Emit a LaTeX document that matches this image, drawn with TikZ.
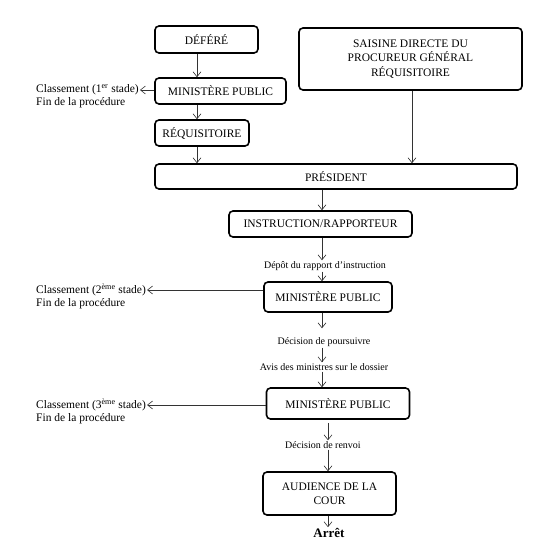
\documentclass[tikz,border=0pt]{standalone}
\usepackage{fontspec}
\setmainfont{Liberation Serif}
\usetikzlibrary{arrows.meta,positioning}

\begin{document}
\begin{tikzpicture}[x=1pt,y=1pt,>={Straight Barb[length=5pt,width=8pt]},
  box/.style={draw,line width=1.6pt,rounded corners=4pt,align=center,inner sep=2pt,font=\fontsize{11.5}{14.5}\selectfont},
  side/.style={inner sep=1pt,align=left,font=\fontsize{11.5}{14}\selectfont},
  lab/.style={inner sep=1pt,font=\fontsize{10}{12}\selectfont},
  link/.style={->,line width=0.6pt,black!80}]
\useasboundingbox (0,0) rectangle (543,-556);
% colonnes des fleches
\coordinate (colA) at (197,0);
\coordinate (colS) at (412,0);
\coordinate (colB) at (322,0);
\coordinate (colC) at (328,0);
% boites
\node[box,minimum width=103pt,minimum height=27pt] (deferre) at (206.5,-39.5) {DÉFÉRÉ};
\node[box,minimum width=131pt,minimum height=26pt] (mp1) at (220.5,-91) {MINISTÈRE PUBLIC};
\node[box,minimum width=94pt,minimum height=26pt] (requis) at (202,-133) {RÉQUISITOIRE};
\node[box,minimum width=223pt,minimum height=62pt] (saisine) at (410.5,-59) {SAISINE DIRECTE DU\\ PROCUREUR GÉNÉRAL\\ RÉQUISITOIRE};
\node[box,minimum width=362pt,minimum height=25pt] (pres) at (336,-176.5) {PRÉSIDENT};
\node[box,minimum width=183pt,minimum height=26pt] (instr) at (320.5,-224) {INSTRUCTION/RAPPORTEUR};
\node[box,minimum width=128pt,minimum height=30pt] (mp2) at (328,-297) {MINISTÈRE PUBLIC};
\node[box,minimum width=143pt,minimum height=31pt] (mp3) at (338,-403.5) {MINISTÈRE PUBLIC};
\node[box,minimum width=133pt,minimum height=43pt] (audience) at (329.5,-493.5) {AUDIENCE DE LA\\ COUR};
% etiquettes des fleches
\node[lab] (depot) at (325,-266) {Dépôt du rapport d’instruction};
\node[lab] (pours) at (324,-342) {Décision de poursuivre};
\node[lab] (avis) at (324,-367) {Avis des ministres sur le dossier};
\node[lab] (renvoi) at (323,-445) {Décision de renvoi};
\node[inner sep=1pt,font=\fontsize{13}{15}\selectfont\bfseries] (arret) at (329,-533) {Arrêt};
% classements
\node[side,anchor=west] (cl1) at (35,-90) {Classement (1\textsuperscript{er} stade)};
\node[side,below=0pt of cl1.south west,anchor=north west] (fin1) {Fin de la procédure};
\node[side,anchor=west] (cl2) at (35,-290) {Classement (2\textsuperscript{ème} stade)};
\node[side,below=0pt of cl2.south west,anchor=north west] (fin2) {Fin de la procédure};
\node[side,anchor=west] (cl3) at (35,-405) {Classement (3\textsuperscript{ème} stade)};
\node[side,below=0pt of cl3.south west,anchor=north west] (fin3) {Fin de la procédure};
% fleches
\draw[link] (deferre.south -| colA) -- (mp1.north -| colA);
\draw[link] (mp1.south -| colA) -- (requis.north -| colA);
\draw[link] (requis.south -| colA) -- (pres.north -| colA);
\draw[link] (saisine.south -| colS) -- (pres.north -| colS);
\draw[link] (pres.south -| colB) -- (instr.north -| colB);
\draw[link] (instr.south -| colB) -- (depot.north -| colB);
\draw[link] (depot.south -| colB) -- (mp2.north -| colB);
\draw[link,shorten >=8pt] (mp2.south -| colB) -- (pours.north -| colB);
\draw[link] (pours.south -| colB) -- (avis.north -| colB);
\draw[link] (avis.south -| colB) -- (mp3.north -| colB);
\draw[link,shorten <=3pt] (mp3.south -| colC) -- (renvoi.north -| colC);
\draw[link] (renvoi.south -| colC) -- (audience.north -| colC);
\draw[link] (audience.south -| colC) -- (arret.north -| colC);
\draw[link] (cl1.east -| mp1.west) -- (cl1.east);
\draw[link] (cl2.east -| mp2.west) -- (cl2.east);
\draw[link] (cl3.east -| mp3.west) -- (cl3.east);
\end{tikzpicture}
\end{document}
